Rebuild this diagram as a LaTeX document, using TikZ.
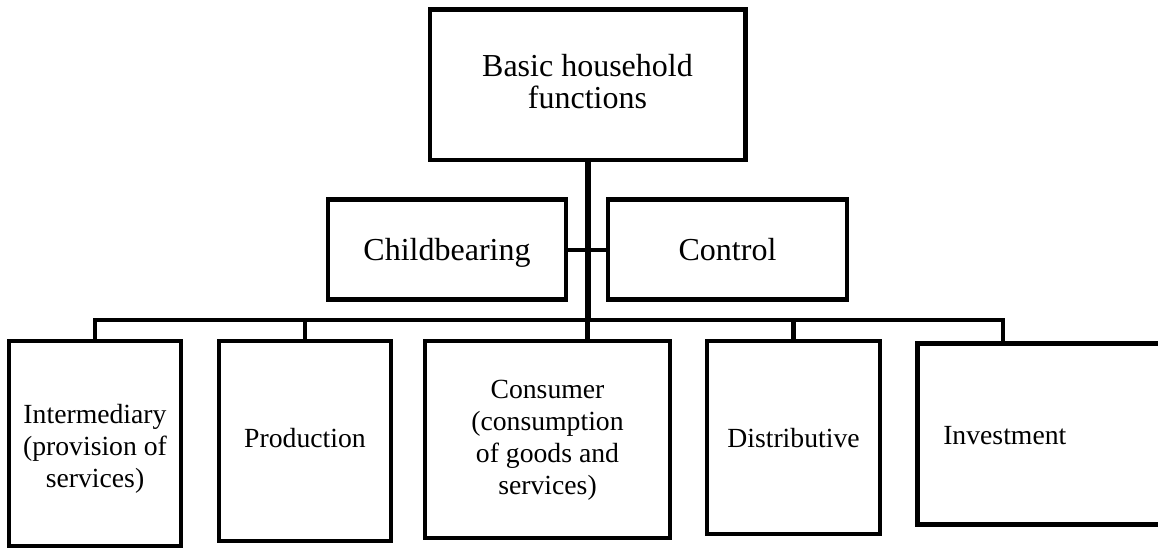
\documentclass[tikz,border=0pt]{standalone}
\usepackage{fontspec}
\setmainfont{Liberation Serif}
\begin{document}
\begin{tikzpicture}[x=1pt,y=-1pt,
  box/.style={draw=black, line width=4.5pt, rectangle, inner sep=0pt, align=center, text depth=0pt},
  topfont/.style={font=\fontsize{32}{31.5}\selectfont},
  lowfont/.style={font=\fontsize{27.7}{32}\selectfont},
  bus/.style={draw=black, line width=4.5pt, line join=miter, line cap=rect},
  mainline/.style={draw=black, line width=6pt}
]
\clip (0,0) rectangle (1158,549);
\fill[white] (0,0) rectangle (1158,549);
% top
\node[box, topfont, minimum width=315.5pt, minimum height=150.5pt, text height=47pt] (top) at (587.5,84.5) {Basic household\\functions};
\node[box, topfont, minimum width=238pt, minimum height=100pt, text height=21pt] (cb) at (447,249.5) {Childbearing};
\node[box, topfont, minimum width=239pt, minimum height=100pt, text height=21pt] (ct) at (727.5,249.5) {Control};
% bottom boxes
\node[box, lowfont, minimum width=172pt, minimum height=205pt, text height=87pt] (b1) at (95,443.5) {Intermediary\\(provision of\\services)};
\node[box, lowfont, minimum width=172pt, minimum height=200pt, text height=12pt] (b2) at (305,441) {Production};
\node[box, lowfont, minimum width=245pt, minimum height=197pt, text height=109pt] (b3) at (547.5,439.5) {Consumer\\(consumption\\of goods and\\services)};
\node[box, lowfont, minimum width=173pt, minimum height=193pt, text height=19pt] (b4) at (793.5,437.5) {Distributive};
\node[box, lowfont, anchor=north west, minimum height=181pt, text height=21pt, text width=213pt, inner xsep=26pt, align=left] (b5) at (915,341) {Investment};
% connectors
\coordinate (j) at (587.5,320);
\coordinate (s5) at (1003,341);
\draw[mainline] (top.south) -- (j);
\draw[line width=4pt] (cb.east) -- (ct.west);
\draw[bus] (b1.north) |- (j) -| (b5.north -| s5);
\draw[bus] (j) -- (b3.north -| j);
\draw[bus] (b2.north) -- (b2.north |- j);
\draw[bus] (b4.north) -- (b4.north |- j);
\end{tikzpicture}
\end{document}
